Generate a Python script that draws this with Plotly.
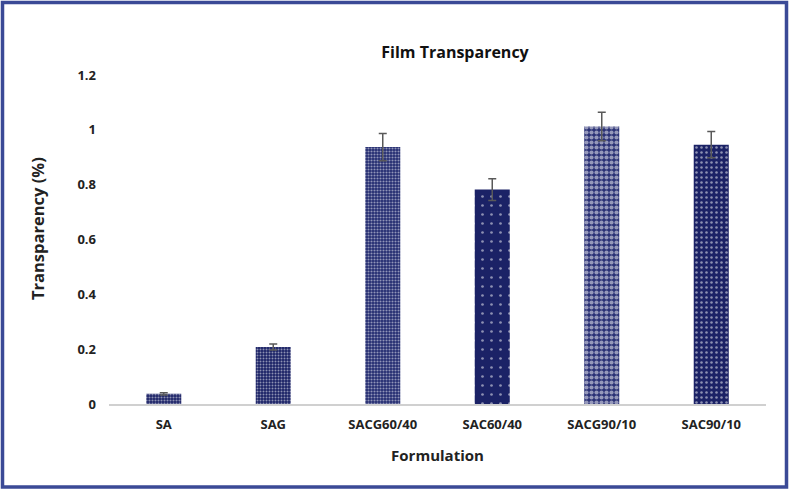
import plotly.graph_objects as go

formulations = ["SA", "SAG", "SACG60/40", "SAC60/40", "SACG90/10", "SAC90/10"]
transparency = [0.037, 0.208, 0.937, 0.782, 1.012, 0.946]
errors = [0.004, 0.011, 0.05, 0.04, 0.052, 0.048]

navy = "#1b2266"
# pattern per bar
shapes = [".", ".", ".", ".", ".", "."]
fgcolors = ["white", "white", "white", "white", "white", "white"]
bgcolors = [navy, navy, "#232b70", navy, "#2a3175", navy]
sizes = [3, 3, 3, 9, 5, 5]
solidity = [0.4, 0.35, 0.4, 0.07, 0.55, 0.2]

W, H = 790, 491
ml, mr, mt, mb = 109, 24, 75, 87
pw, ph = W - ml - mr, H - mt - mb

fig = go.Figure(go.Bar(
    x=formulations,
    y=transparency,
    width=0.32,
    marker=dict(
        color=bgcolors,
        line=dict(width=0),
        pattern=dict(shape=shapes, fgcolor=fgcolors, bgcolor=bgcolors,
                     size=sizes, solidity=solidity, fillmode="overlay"),
    ),
    error_y=dict(type="data", array=errors, color="#595959", thickness=1.5, width=4),
))

fig.update_layout(
    width=W, height=H,
    margin=dict(l=ml, r=mr, t=mt, b=mb),
    plot_bgcolor="white", paper_bgcolor="white",
    font=dict(family="Open Sans", color="#222222", size=13),
    title=dict(text="<b>Film Transparency</b>", x=455 / W, xanchor="center",
               y=1 - 52 / H, yanchor="middle", font=dict(size=16, color="#111111")),
    showlegend=False,
)
fig.update_xaxes(
    showline=True, linecolor="#d0d0d0", linewidth=1.5, ticks="",
    tickfont=dict(size=13, color="#222222", weight="bold"),
    ticklabelstandoff=8,
    title=dict(text="<b>Formulation</b>", font=dict(size=15, color="#222222"), standoff=18),
)
fig.update_yaxes(
    range=[0, 1.2], showgrid=False, zeroline=False, showline=False,
    tickvals=[0, 0.2, 0.4, 0.6, 0.8, 1.0, 1.2],
    ticktext=["0", "0.2", "0.4", "0.6", "0.8", "1", "1.2"],
    tickfont=dict(size=13, color="#222222", weight="bold"),
    ticklabelstandoff=12,
)

# y axis title, placed where the reference has it
fig.add_annotation(
    text="<b>Transparency (%)</b>", textangle=-90, showarrow=False,
    xref="paper", yref="paper",
    x=(37 - ml) / pw, y=1 - (229 - mt) / ph, xanchor="center", yanchor="middle",
    font=dict(size=16.5, color="#222222"),
)

# frame around the whole picture
fig.add_shape(
    type="rect", xref="paper", yref="paper",
    x0=(2.5 - ml) / pw, x1=1 + (mr - 3.5) / pw,
    y0=-(mb - 4) / ph, y1=1 + (mt - 2.5) / ph,
    line=dict(color="#3b4a96", width=3.5),
)

fig.write_html("out.html", config={"displayModeBar": False})

# drop the default page margin so the figure sits at the window's corner
with open("out.html", encoding="utf-8") as f:
    page = f.read()
page = page.replace("<body>", '<body style="margin:0">', 1)
with open("out.html", "w", encoding="utf-8") as f:
    f.write(page)
